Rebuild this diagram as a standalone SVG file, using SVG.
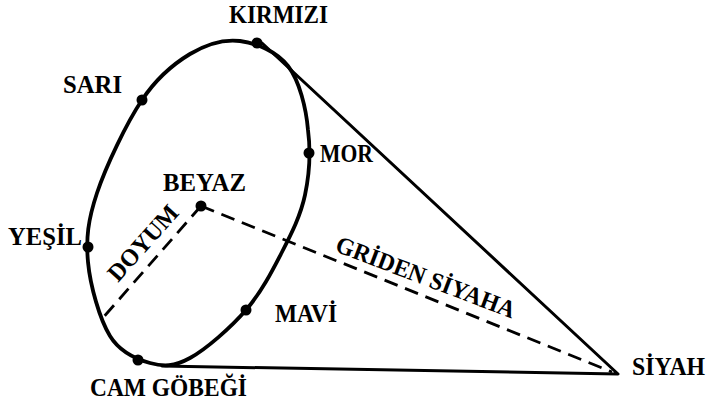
<svg xmlns="http://www.w3.org/2000/svg" width="709" height="404" viewBox="0 0 709 404">
<style>
.lbl{font-family:"Liberation Serif","DejaVu Serif",serif;font-weight:bold;font-size:24.5px;fill:#000}
.dot{fill:#000}
.solid{fill:none;stroke:#000;stroke-width:3;stroke-linecap:round;stroke-linejoin:round}
.dash{fill:none;stroke:#000;stroke-width:2.8;stroke-dasharray:14 8}
.rim{fill:none;stroke:#000;stroke-width:3.8}
</style>
<rect width="709" height="404" fill="#fff"/>
<g id="connectors">
<path class="solid" d="M262,43 L618,374 L162,366"/>
<line class="dash" x1="201" y1="206" x2="101" y2="320"/>
<line class="dash" x1="201" y1="206" x2="612" y2="372"/>
<text class="lbl" x="118" y="283" textLength="93" lengthAdjust="spacingAndGlyphs" transform="rotate(-48.2 118 283)">DOYUM</text>
<text class="lbl" x="334" y="251" textLength="190" lengthAdjust="spacingAndGlyphs" transform="rotate(20.8 334 251)">GRİDEN SİYAHA</text>
</g>
<g id="rim">
<path class="rim" d="M240,41 C256.3,43 276.5,51.2 288,66 C299.5,80.8 306.2,108.5 308,130 C310.8,151.5 309.3,174.7 305,195 C300.7,215.3 291.8,232.8 282,252 C272.2,271.2 261.3,292.3 246,310 C230.7,327.7 206,349.2 190,358 C174,366.8 163.3,366.7 150,363 C136.7,359.3 120.3,352.8 110,336 C99.7,319.2 90.2,285.8 88,262 C85.8,238.2 88,220 97,193 C106,166 126.5,123.2 142,100 C157.5,76.8 173.7,63.8 190,54 C206.3,44.2 223.7,39 240,41 Z"/>
</g>
<g id="kirmizi"><circle class="dot" cx="257" cy="43" r="5.5"/><text class="lbl" x="229" y="23" textLength="99" lengthAdjust="spacingAndGlyphs">KIRMIZI</text></g>
<g id="sari"><circle class="dot" cx="142" cy="100" r="5.5"/><text class="lbl" x="63" y="93" textLength="59" lengthAdjust="spacingAndGlyphs">SARI</text></g>
<g id="mor"><circle class="dot" cx="309" cy="153" r="5.5"/><text class="lbl" x="320" y="162" textLength="53" lengthAdjust="spacingAndGlyphs">MOR</text></g>
<g id="beyaz"><circle class="dot" cx="201" cy="206" r="5.5"/><text class="lbl" x="163" y="191" textLength="83" lengthAdjust="spacingAndGlyphs">BEYAZ</text></g>
<g id="yesil"><circle class="dot" cx="88" cy="247" r="5.5"/><text class="lbl" x="8" y="245" textLength="74" lengthAdjust="spacingAndGlyphs">YEŞİL</text></g>
<g id="mavi"><circle class="dot" cx="246" cy="310" r="5.5"/><text class="lbl" x="275" y="322" textLength="62" lengthAdjust="spacingAndGlyphs">MAVİ</text></g>
<g id="camgobegi"><circle class="dot" cx="138" cy="360" r="5.5"/><text class="lbl" x="90" y="396" textLength="157" lengthAdjust="spacingAndGlyphs">CAM GÖBEĞİ</text></g>
<g id="siyah"><text class="lbl" x="632" y="375" textLength="73" lengthAdjust="spacingAndGlyphs">SİYAH</text></g>
</svg>
